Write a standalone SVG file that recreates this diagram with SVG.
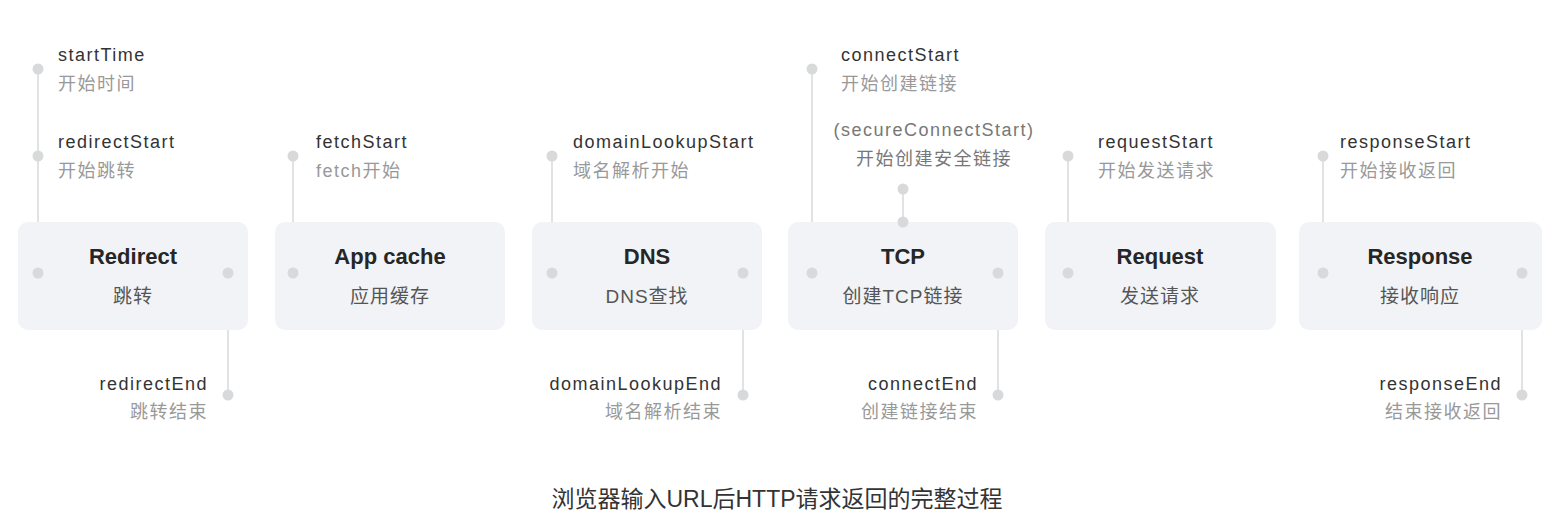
<svg xmlns="http://www.w3.org/2000/svg" width="1562" height="531" viewBox="0 0 1562 531">
<style>
.box{fill:#f1f3f6;}
.ttl{font-family:"Liberation Sans","Noto Sans CJK SC",sans-serif;font-size:22px;font-weight:bold;fill:#262626;text-anchor:middle;}
.sub{font-family:"Liberation Sans","Noto Sans CJK SC",sans-serif;font-size:19px;fill:#555;text-anchor:middle;letter-spacing:1px;}
.en{font-family:"Liberation Sans","Noto Sans CJK SC",sans-serif;font-size:18px;fill:#333;letter-spacing:1.5px;}
.cn{font-family:"Liberation Sans","Noto Sans CJK SC",sans-serif;font-size:18px;fill:#999;letter-spacing:1.5px;}
.r{text-anchor:end;}
.m{text-anchor:middle;}
.ln{stroke:#e1e2e4;stroke-width:2;fill:none;}
.dot{fill:#d8d9db;}
.cap{font-family:"Liberation Sans","Noto Sans CJK SC",sans-serif;font-size:23px;fill:#333;text-anchor:middle;}
</style>
<rect width="1562" height="531" fill="#ffffff"/>

<g id="connectors">
<line class="ln" x1="38" y1="69" x2="38" y2="273"/>
<line class="ln" x1="228" y1="273" x2="228" y2="395"/>
<line class="ln" x1="293" y1="156" x2="293" y2="273"/>
<line class="ln" x1="552" y1="156" x2="552" y2="273"/>
<line class="ln" x1="743" y1="273" x2="743" y2="395"/>
<line class="ln" x1="812" y1="69" x2="812" y2="273"/>
<line class="ln" x1="903" y1="189" x2="903" y2="222"/>
<line class="ln" x1="998" y1="273" x2="998" y2="395"/>
<line class="ln" x1="1068" y1="156" x2="1068" y2="273"/>
<line class="ln" x1="1323" y1="156" x2="1323" y2="273"/>
<line class="ln" x1="1522" y1="273" x2="1522" y2="395"/>
</g>

<g id="redirect">
<rect class="box" x="18" y="222" width="230" height="108" rx="10"/>
<text class="ttl" x="133" y="264">Redirect</text>
<text class="sub" x="133" y="303">跳转</text>
<circle class="dot" cx="38" cy="69" r="5.5"/>
<circle class="dot" cx="38" cy="156" r="5.5"/>
<circle class="dot" cx="38" cy="273" r="5.5"/>
<circle class="dot" cx="228" cy="273" r="5.5"/>
<circle class="dot" cx="228" cy="395" r="5.5"/>
<text class="en" x="58" y="61">startTime</text>
<text class="cn" x="58" y="90">开始时间</text>
<text class="en" x="58" y="148">redirectStart</text>
<text class="cn" x="58" y="177">开始跳转</text>
<text class="en r" x="208" y="390">redirectEnd</text>
<text class="cn r" x="208" y="418">跳转结束</text>
</g>

<g id="appcache">
<rect class="box" x="275" y="222" width="230" height="108" rx="10"/>
<text class="ttl" x="390" y="264">App cache</text>
<text class="sub" x="390" y="303">应用缓存</text>
<circle class="dot" cx="293" cy="156" r="5.5"/>
<circle class="dot" cx="293" cy="273" r="5.5"/>
<text class="en" x="316" y="148">fetchStart</text>
<text class="cn" x="316" y="177">fetch开始</text>
</g>

<g id="dns">
<rect class="box" x="532" y="222" width="230" height="108" rx="10"/>
<text class="ttl" x="647" y="264">DNS</text>
<text class="sub" x="647" y="303">DNS查找</text>
<circle class="dot" cx="552" cy="156" r="5.5"/>
<circle class="dot" cx="552" cy="273" r="5.5"/>
<circle class="dot" cx="743" cy="273" r="5.5"/>
<circle class="dot" cx="743" cy="395" r="5.5"/>
<text class="en" x="573" y="148">domainLookupStart</text>
<text class="cn" x="573" y="177">域名解析开始</text>
<text class="en r" x="722" y="390">domainLookupEnd</text>
<text class="cn r" x="722" y="418">域名解析结束</text>
</g>

<g id="tcp">
<rect class="box" x="788" y="222" width="230" height="108" rx="10"/>
<text class="ttl" x="903" y="264">TCP</text>
<text class="sub" x="903" y="303">创建TCP链接</text>
<circle class="dot" cx="812" cy="69" r="5.5"/>
<circle class="dot" cx="812" cy="273" r="5.5"/>
<circle class="dot" cx="903" cy="189" r="5.5"/>
<circle class="dot" cx="903" cy="222" r="5.5"/>
<circle class="dot" cx="998" cy="273" r="5.5"/>
<circle class="dot" cx="998" cy="395" r="5.5"/>
<text class="en" x="841" y="61">connectStart</text>
<text class="cn" x="841" y="90">开始创建链接</text>
<text class="cn m" x="934" y="136" style="fill:#777">(secureConnectStart)</text>
<text class="cn m" x="934" y="165" style="fill:#777">开始创建安全链接</text>
<text class="en r" x="978" y="390">connectEnd</text>
<text class="cn r" x="978" y="418">创建链接结束</text>
</g>

<g id="request">
<rect class="box" x="1045" y="222" width="231" height="108" rx="10"/>
<text class="ttl" x="1160" y="264">Request</text>
<text class="sub" x="1160" y="303">发送请求</text>
<circle class="dot" cx="1068" cy="156" r="5.5"/>
<circle class="dot" cx="1068" cy="273" r="5.5"/>
<text class="en" x="1098" y="148">requestStart</text>
<text class="cn" x="1098" y="177">开始发送请求</text>
</g>

<g id="response">
<rect class="box" x="1299" y="222" width="243" height="108" rx="10"/>
<text class="ttl" x="1420" y="264">Response</text>
<text class="sub" x="1420" y="303">接收响应</text>
<circle class="dot" cx="1323" cy="156" r="5.5"/>
<circle class="dot" cx="1323" cy="273" r="5.5"/>
<circle class="dot" cx="1522" cy="273" r="5.5"/>
<circle class="dot" cx="1522" cy="395" r="5.5"/>
<text class="en" x="1340" y="148">responseStart</text>
<text class="cn" x="1340" y="177">开始接收返回</text>
<text class="en r" x="1502" y="390">responseEnd</text>
<text class="cn r" x="1502" y="418">结束接收返回</text>
</g>

<g id="caption">
<text class="cap" x="777" y="507">浏览器输入URL后HTTP请求返回的完整过程</text>
</g>
</svg>
